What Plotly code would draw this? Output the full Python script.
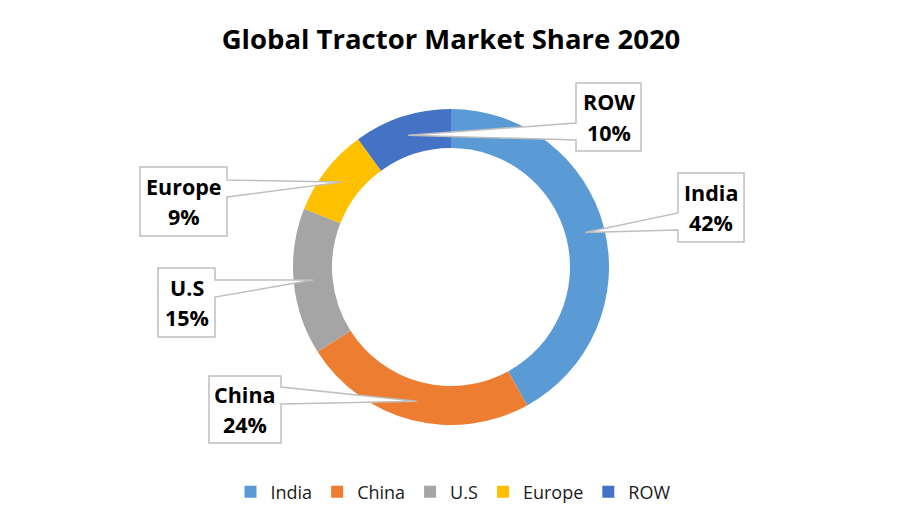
import math
import plotly.graph_objects as go

# data
regions = ["India", "China", "U.S", "Europe", "ROW"]
shares = [42, 24, 15, 9, 10]
colors = ["#5B9BD5", "#ED7D31", "#A5A5A5", "#FFC000", "#4472C4"]

W, H = 902, 527
PAD = 8                    # page body margin in the browser
CX, CY = 451, 267          # donut centre (px)
R_OUT, R_IN = 158, 119     # radii (px)
FONT = "Open Sans"

# callout boxes in px: x0, y0, x1, y1, side of the leader, leader base y0/y1
callouts = {
    "ROW":    (576, 83, 641, 151, "left", 123, 140),
    "India":  (678, 173, 744, 242, "left", 213, 230),
    "Europe": (140, 167, 227, 236, "right", 180, 197),
    "U.S":    (158, 268, 215, 337, "right", 280, 297),
    "China":  (209, 376, 281, 443, "right", 387, 404),
}


def px(x, y):
    # pixel on the page -> paper coordinates
    return (x - PAD) / W, 1 - (y - PAD) / H


fig = go.Figure()
dx0, dy1 = px(CX - R_OUT, CY - R_OUT)
dx1, dy0 = px(CX + R_OUT, CY + R_OUT)
fig.add_trace(go.Pie(
    labels=regions, values=shares,
    marker=dict(colors=colors, line=dict(width=0)),
    hole=R_IN / R_OUT,
    sort=False, direction="clockwise", rotation=0,
    textinfo="none", hoverinfo="label+percent",
    domain=dict(x=[dx0, dx1], y=[dy0, dy1]),
))

total = sum(shares)
cum = 0
shapes = []
annotations = []
r_mid = (R_OUT + R_IN) / 2
for name, v in zip(regions, shares):
    theta = 2 * math.pi * (cum + v / 2) / total
    cum += v
    ax = CX + r_mid * math.sin(theta)
    ay = CY - r_mid * math.cos(theta)
    x0, y0, x1, y1, side, b0, b1 = callouts[name]
    if side == "left":
        pts = [(x0, y0), (x1, y0), (x1, y1), (x0, y1), (x0, b1), (ax, ay), (x0, b0)]
    else:
        pts = [(x0, y0), (x1, y0), (x1, b0), (ax, ay), (x1, b1), (x1, y1), (x0, y1)]
    path = "M " + " L ".join("%.4f,%.4f" % px(*p) for p in pts) + " Z"
    shapes.append(dict(type="path", xref="paper", yref="paper", path=path,
                       fillcolor="white", line=dict(color="#BFBFBF", width=1.5),
                       layer="above"))
    cx = (x0 + x1) / 2
    cy = (y0 + y1) / 2
    for txt, dy in ((name, -15), ("%d%%" % v, 15)):
        tx, ty = px(cx, cy + dy)
        annotations.append(dict(x=tx, y=ty, xref="paper", yref="paper",
                                text="<b>%s</b>" % txt, showarrow=False,
                                xanchor="center", yanchor="middle",
                                font=dict(family=FONT, size=21.5, color="black")))

tx, ty = px(451, 39)
lx, ly = px(453, 492)
fig.update_layout(
    width=W, height=H,
    margin=dict(l=0, r=0, t=0, b=0),
    paper_bgcolor="white", plot_bgcolor="white",
    title=dict(text="<b>Global Tractor Market Share 2020</b>",
               x=tx, xanchor="center", y=ty, yanchor="middle",
               font=dict(family=FONT, size=27.5, color="black")),
    legend=dict(orientation="h", x=lx, xanchor="center",
                y=ly, yanchor="middle",
                font=dict(family=FONT, size=18, color="#1a1a1a"),
                traceorder="normal", itemwidth=30),
    shapes=shapes,
    annotations=annotations,
)

fig.write_html("out.html")
